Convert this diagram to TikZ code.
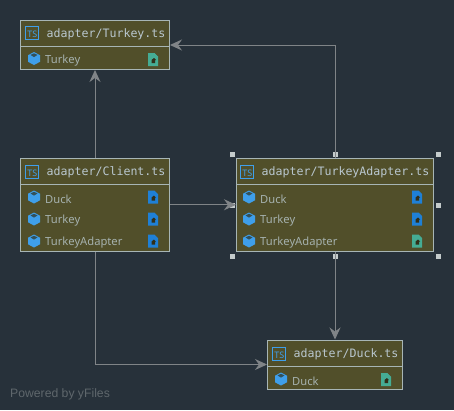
\documentclass[tikz,border=0pt]{standalone}
\usepackage{fontspec}
\setmainfont{Noto Sans}
\setmonofont{DejaVu Sans Mono}
\newfontfamily\footfont{Liberation Sans}
\usetikzlibrary{arrows.meta}
\definecolor{bgc}{HTML}{27313A}
\definecolor{boxc}{HTML}{514F2A}
\definecolor{edgec}{HTML}{A7B5B5}
\definecolor{linkc}{HTML}{808487}
\definecolor{titlec}{HTML}{B9C7CF}
\definecolor{itemc}{HTML}{A5B1AE}
\definecolor{cubec}{HTML}{3F9FEA}
\definecolor{fileb}{HTML}{1F80D6}
\definecolor{filet}{HTML}{45AC94}
\definecolor{handc}{HTML}{C4CBCB}
\definecolor{footc}{HTML}{5F676C}
\tikzset{
  x=1pt,y=-1pt,
  filebox/.style={draw=edgec,fill=boxc,line width=1pt,inner sep=0pt},
  titletext/.style={anchor=west,inner sep=0pt,text=titlec,font=\ttfamily\fontsize{11.6}{12}\selectfont},
  itemtext/.style={anchor=west,inner sep=0pt,text=itemc,font=\fontsize{11.2}{12}\selectfont},
  link/.style={draw=linkc,line width=1pt,-{Stealth[length=12pt,width=11pt,inset=4pt]}},
  handle/.style={fill=handc,draw=none,minimum size=5pt,inner sep=0pt},
  divider/.style={draw=edgec,line width=1pt},
}
\newcommand{\tsicon}[2]{%
  \draw[cubec,line width=1pt] (#1-6.5,#2-6.5) rectangle (#1+6.5,#2+6.5);
  \node[inner sep=0pt,text=cubec,font=\fontsize{9}{9}\selectfont] at (#1+0.3,#2+1.5) {TS};}
\newcommand{\cubeicon}[2]{%
  \fill[cubec] (#1,#2-6.5) -- (#1+6,#2-3.3) -- (#1+6,#2+3.3) -- (#1,#2+6.5) -- (#1-6,#2+3.3) -- (#1-6,#2-3.3) -- cycle;
  \fill[boxc!55!cubec!70!black] (#1-3.5,#2-3.6) -- (#1,#2-5.2) -- (#1+3.5,#2-3.6) -- (#1,#2-1.4) -- cycle;}
\newcommand{\fileicon}[3]{%
  \fill[#3] (#1-5,#2-6.5) -- (#1+1.5,#2-6.5) -- (#1+5,#2-3) -- (#1+5,#2+6.5) -- (#1-5,#2+6.5) -- cycle;
  \fill[boxc] (#1+2.2,#2-6.5) -- (#1+5,#2-6.5) -- (#1+5,#2-3.7) -- cycle;
  \fill[boxc!60!black] (#1-1.5,#2+0.5) -- (#1+1,#2-1.5) -- (#1+3,#2+0.5) -- (#1+2,#2+0.5) -- (#1+2,#2+3.5) -- (#1-1.5,#2+3.5) -- cycle;}
\begin{document}
\begin{tikzpicture}
\fill[bgc] (0,0) rectangle (454,410);
\useasboundingbox (0,0) rectangle (454,410);

% selection handles
\foreach \n/\hx/\hy in {h1/232.5/154.5,h2/335.3/154.5,h3/438/154.5,h4/232.5/205,h5/438/205,h6/232.5/256,h7/335.3/256,h8/438/256}
  \node[handle] (\n) at (\hx,\hy) {};

% boxes
\node[filebox,minimum width=149pt,minimum height=49pt] (turkey) at (95,45) {};
\node[filebox,minimum width=149pt,minimum height=92.5pt] (client) at (95,204.75) {};
\node[filebox,minimum width=197pt,minimum height=92.5pt] (adapter) at (335,204.75) {};
\node[filebox,minimum width=135pt,minimum height=49pt] (duck) at (335,364.5) {};

% connectors
\draw[link] (client.north) -- (turkey.south);
\draw[link] (adapter.north) |- (turkey.east);
\draw[link] (client.east) -- (adapter.west);
\draw[link] (adapter.south) -- (duck.north);
\draw[link] (client.south) |- (duck.west);

% dividers
\draw[divider] (20.5,46) -- (169.5,46);
\draw[divider] (20.5,184.5) -- (169.5,184.5);
\draw[divider] (236.5,184.5) -- (433.5,184.5);
\draw[divider] (267.5,366) -- (402.5,366);

% Turkey.ts
\tsicon{32}{33}
\node[titletext] (t1) at (46.5,34) {adapter/Turkey.ts};
\cubeicon{34}{58.5}
\node[itemtext] (t2) at (45,60.5) {Turkey};
\fileicon{153}{59.5}{filet}

% Client.ts
\tsicon{32}{171.5}
\node[titletext] (c1) at (46.5,172.5) {adapter/Client.ts};
\cubeicon{34}{197}
\node[itemtext] (c2) at (45,199) {Duck};
\fileicon{153}{197}{fileb}
\cubeicon{34}{219}
\node[itemtext] (c3) at (45,221) {Turkey};
\fileicon{153}{219}{fileb}
\cubeicon{34}{241}
\node[itemtext] (c4) at (45,243) {TurkeyAdapter};
\fileicon{153}{241}{fileb}

% TurkeyAdapter.ts
\tsicon{247}{171.5}
\node[titletext] (a1) at (261.5,172.5) {adapter/TurkeyAdapter.ts};
\cubeicon{249}{197}
\node[itemtext] (a2) at (260,199) {Duck};
\fileicon{417}{197}{fileb}
\cubeicon{249}{219}
\node[itemtext] (a3) at (260,221) {Turkey};
\fileicon{417}{219}{fileb}
\cubeicon{249}{241}
\node[itemtext] (a4) at (260,243) {TurkeyAdapter};
\fileicon{417}{241}{filet}

% Duck.ts
\tsicon{279}{353.5}
\node[titletext] (d1) at (293.5,354.5) {adapter/Duck.ts};
\cubeicon{281}{379}
\node[itemtext] (d2) at (292,381) {Duck};
\fileicon{386}{379.5}{filet}

\node[anchor=west,inner sep=0pt,text=footc,font=\footfont\fontsize{12.2}{12}\selectfont] (foot) at (10,394) {Powered by yFiles};
\end{tikzpicture}
\end{document}
